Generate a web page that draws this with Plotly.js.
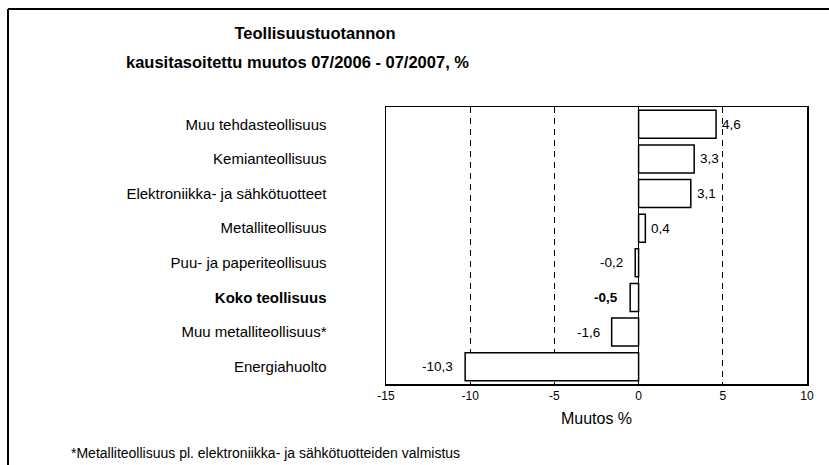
<!DOCTYPE html>
<html>
<head>
<meta charset="utf-8">
<script src="https://cdn.plot.ly/plotly-3.0.1.min.js"></script>
<style>html,body{margin:0;padding:0;background:#fff;}#chart{width:829px;height:465px;}</style>
</head>
<body>
<div id="chart"></div>
<script>
const categories = [
  "Muu tehdasteollisuus",
  "Kemianteollisuus",
  "Elektroniikka- ja sähkötuotteet",
  "Metalliteollisuus",
  "Puu- ja paperiteollisuus",
  "Koko teollisuus",
  "Muu metalliteollisuus*",
  "Energiahuolto"
];
const values = [4.6, 3.3, 3.1, 0.4, -0.2, -0.5, -1.6, -10.3];
const boldCategory = "Koko teollisuus";
const xTicks = [-15, -10, -5, 0, 5, 10];

const FONT = "'Liberation Sans', Arial, Helvetica, sans-serif";
const fmt = v => v.toFixed(1).replace('.', ',');

const ticktext = categories.map(c => c === boldCategory ? '<b>' + c + '</b>' : c);

const labelAnns = values.map((v, i) => {
  const t = categories[i] === boldCategory ? '<b>' + fmt(v) + '</b>' : fmt(v);
  return {
    x: v, y: categories[i], xref: 'x', yref: 'y',
    text: t, showarrow: false,
    xanchor: v >= 0 ? 'left' : 'right',
    xshift: v >= 0 ? 4 : -10,
    font: {family: FONT, size: 13.5, color: '#000'}
  };
});

const trace = {
  type: 'bar',
  orientation: 'h',
  x: values,
  y: categories,
  marker: {color: '#ffffff', line: {color: '#000000', width: 1.5}},
  hoverinfo: 'x+y'
};

const layout = {
  width: 829, height: 465,
  margin: {l: 386, r: 22, t: 107, b: 81, pad: 0},
  paper_bgcolor: '#ffffff', plot_bgcolor: '#ffffff',
  font: {family: FONT, color: '#000'},
  separators: ',.',
  showlegend: false,
  bargap: 0.19,
  title: {
    text: '<b>Teollisuustuotannon</b>',
    font: {family: FONT, size: 16.5, color: '#000'},
    x: 315 / 829, xanchor: 'center', xref: 'container',
    y: 1 - 33 / 465, yanchor: 'middle', yref: 'container'
  },
  xaxis: {
    range: [-15, 10],
    tickvals: xTicks,
    ticktext: xTicks.map(String),
    ticks: '',
    tickfont: {family: FONT, size: 12, color: '#000'},
    showgrid: true, gridcolor: '#000', gridwidth: 1, griddash: '6px,5px',
    zeroline: true, zerolinecolor: '#000', zerolinewidth: 1.2,
    showline: true, linecolor: '#000', linewidth: 1.5, mirror: true,
    title: {text: 'Muutos %', font: {family: FONT, size: 16, color: '#000'}, standoff: 11},
    fixedrange: true
  },
  yaxis: {
    type: 'category',
    autorange: 'reversed',
    tickvals: categories,
    ticktext: ticktext,
    ticks: '',
    ticklabelstandoff: 55,
    tickfont: {family: FONT, size: 15, color: '#000'},
    showgrid: false, zeroline: false,
    showline: true, linecolor: '#000', linewidth: 1.5, mirror: true,
    fixedrange: true
  },
  annotations: labelAnns.concat([
    {
      text: '<b>kausitasoitettu muutos 07/2006 - 07/2007, %</b>',
      xref: 'paper', yref: 'paper',
      x: (297 - 386) / 421, y: (384 - 62) / 277,
      xanchor: 'center', yanchor: 'middle', showarrow: false,
      font: {family: FONT, size: 16.5, color: '#000'}
    },
    {
      text: '*Metalliteollisuus pl. elektroniikka- ja sähkötuotteiden valmistus',
      xref: 'paper', yref: 'paper',
      x: (69 - 386) / 421, y: (384 - 463) / 277,
      xanchor: 'left', yanchor: 'bottom', showarrow: false,
      font: {family: FONT, size: 14, color: '#000'}
    }
  ]),
  shapes: [
    {type: 'line', xref: 'paper', yref: 'paper',
     x0: (8 - 386) / 421, x1: (829 - 386) / 421, y0: (384 - 9) / 277, y1: (384 - 9) / 277,
     line: {color: '#000', width: 2}},
    {type: 'line', xref: 'paper', yref: 'paper',
     x0: (8 - 386) / 421, x1: (8 - 386) / 421, y0: (384 - 9) / 277, y1: (384 - 465) / 277,
     line: {color: '#000', width: 2}}
  ]
};

Plotly.newPlot('chart', [trace], layout, {displayModeBar: false, staticPlot: true});
</script>
</body>
</html>
